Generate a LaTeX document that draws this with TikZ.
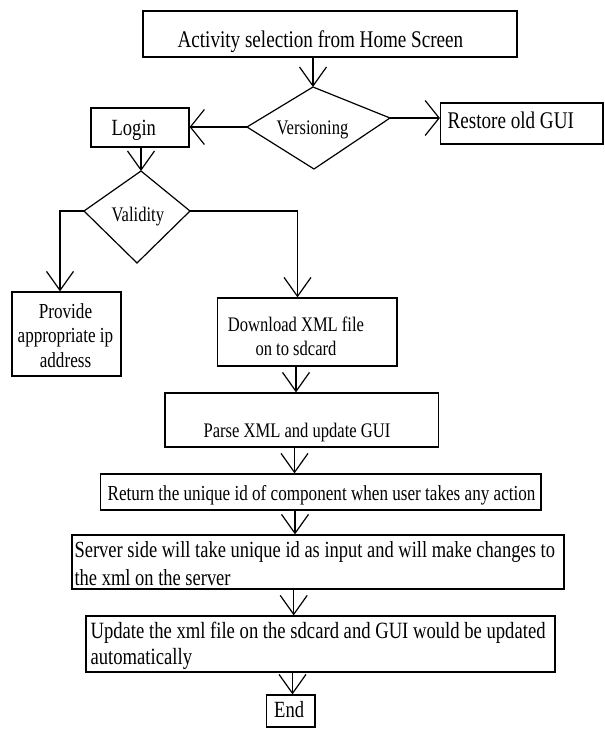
\documentclass[tikz,border=0pt]{standalone}
\usepackage{fontspec}
\setmainfont{Liberation Serif}[FakeStretch=0.8]
\usetikzlibrary{arrows.meta}
\begin{document}
\begin{tikzpicture}[x=1pt,y=-1pt,line width=1.2pt,
  box/.style={draw, line width=1.2pt, inner sep=0pt},
  txt/.style={inner sep=0pt, anchor=base west},
  ctxt/.style={inner sep=0pt, anchor=base, align=center},
  ltxt/.style={inner sep=0pt, anchor=base west, align=left},
  va/.style={-{Straight Barb[length=19pt,width=27pt]}},
  ha/.style={-{Straight Barb[length=14pt,width=35pt]}},
  fbig/.style={font=\fontsize{23.9}{27}\selectfont},
  fmid/.style={font=\fontsize{23.2}{27}\selectfont},
  fsm/.style={font=\fontsize{21.4}{24.5}\selectfont},
  fxs/.style={font=\fontsize{20.7}{24}\selectfont}]
\useasboundingbox (0,0) rectangle (605,731);

% boxes
\node[box, minimum width=374pt, minimum height=46pt] (top) at (330,34) {};
\node[box, minimum width=98pt, minimum height=39pt] (login) at (140,127.5) {};
\node[box, minimum width=162.5pt, minimum height=41pt] (restore) at (521.75,123.5) {};
\node[box, minimum width=109pt, minimum height=84pt] (provide) at (66.5,334) {};
\node[box, minimum width=179.5pt, minimum height=68pt] (download) at (307.25,332) {};
\node[box, minimum width=273.5pt, minimum height=54pt] (parse) at (301.75,420) {};
\node[box, minimum width=440.5pt, minimum height=36pt] (return) at (320.75,492) {};
\node[box, minimum width=492pt, minimum height=54pt] (server) at (318,562) {};
\node[box, minimum width=469pt, minimum height=56pt] (update) at (320.5,644) {};
\node[box, minimum width=48.4pt, minimum height=32pt] (end) at (290.8,711) {};

% diamonds
\coordinate (vT) at (313,87);
\coordinate (vR) at (390,118);
\coordinate (vB) at (314,169);
\coordinate (vL) at (247,127);
\draw (vT) -- (vR) -- (vB) -- (vL) -- cycle;
\coordinate (dT) at (141,171);
\coordinate (dR) at (190,211);
\coordinate (dB) at (137,263);
\coordinate (dL) at (84,211);
\draw (dT) -- (dR) -- (dB) -- (dL) -- cycle;

% texts
\node[txt, fbig] (ttop) at (177,47.5) {Activity selection from Home Screen};
\node[txt, fbig] (trestore) at (447,128) {Restore old GUI};
\node[txt, fmid] (tlogin) at (111,135) {Login};
\node[txt, fxs] (tver) at (276,134) {Versioning};
\node[txt, fxs] (tval) at (111,221) {Validity};
\node[ctxt, fsm] (tprovide) at (65.5,367) {Provide\\appropriate ip\\address};
\node[ctxt, fxs] (tdownload) at (296,355) {Download XML file\\on to sdcard};
\node[txt, fxs] (tparse) at (203,437) {Parse XML and update GUI};
\node[txt, fsm] (treturn) at (107,500) {Return the unique id of component when user takes any action};
\node[ltxt, font=\fontsize{23.1}{28}\selectfont] (tserver) at (74,585) {Server side will take unique id as input and will make changes to\\the xml on the server};
\node[ltxt, font=\fontsize{23.3}{26}\selectfont] (tupdate) at (90,664) {Update the xml file on the sdcard and GUI would be updated\\automatically};
\node[txt, fmid] (tend) at (273.6,717) {End};

% connectors
\draw[va] (top.south -| vT) -- (vT);
\draw[ha] (vL) -- (vL -| login.east);
\draw[ha] (vR) -- (vR -| restore.west);
\draw[va] (login.south -| dT) -- (dT);
\draw[va] (dL) -| (provide.north -| 60,0);
\draw[va] (dR) -| (download.north -| 297.5,0);
\draw[va] (download.south -| 296,0) -- (parse.north -| 296,0);
\draw[va] (parse.south -| 294.5,0) -- (return.north -| 294.5,0);
\draw[va] (return.south -| 295,0) -- (server.north -| 295,0);
\draw[va] (server.south -| 293.7,0) -- (update.north -| 293.7,0);
\draw[va] (update.south -| 292.5,0) -- (end.north -| 292.5,0);
\end{tikzpicture}
\end{document}
